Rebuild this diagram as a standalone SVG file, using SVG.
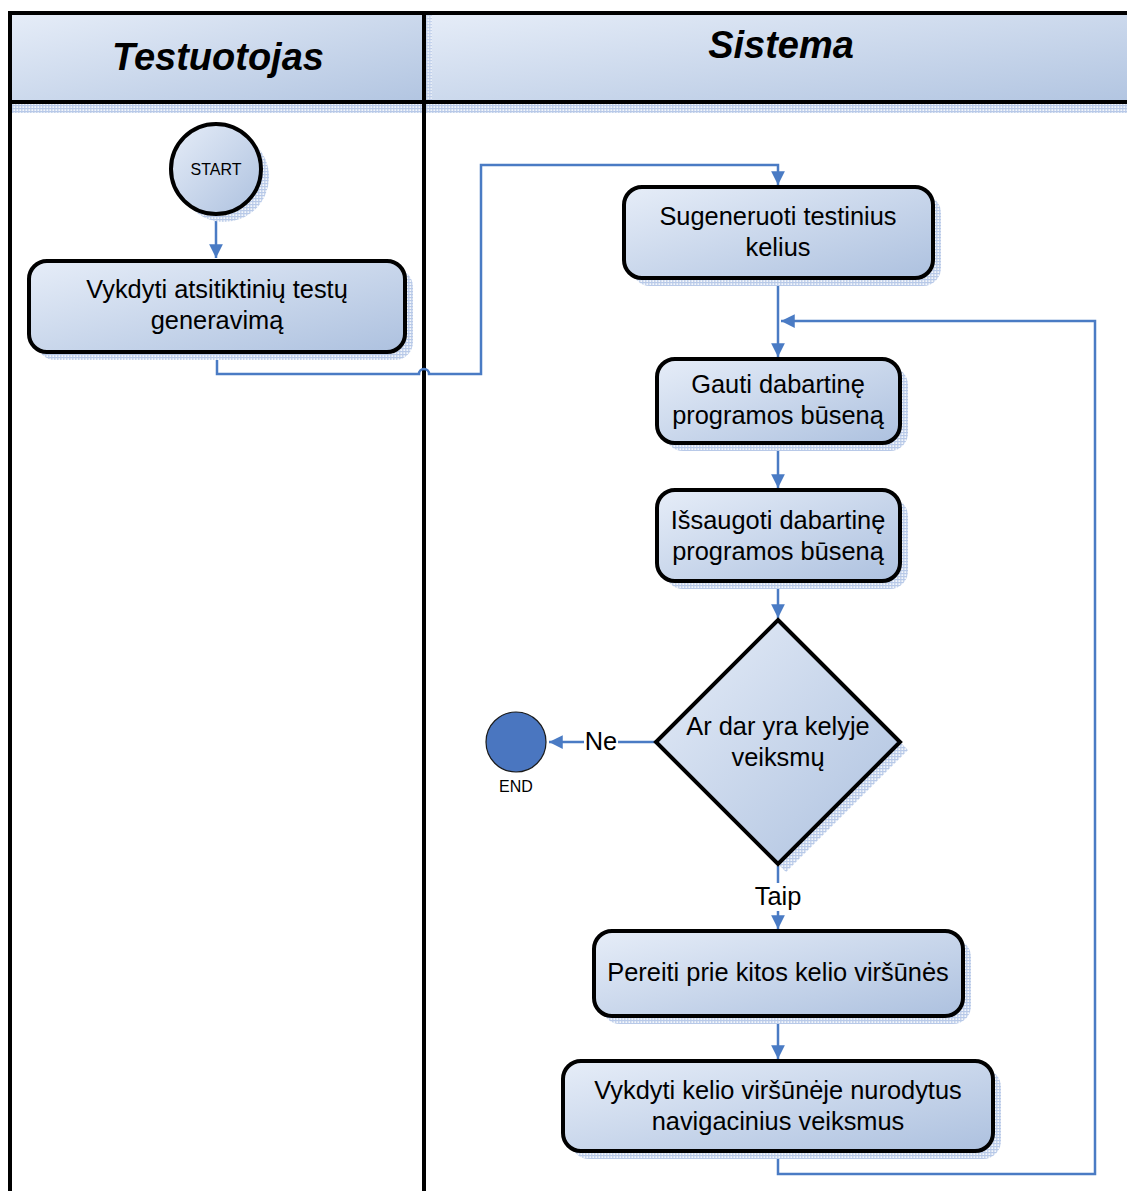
<svg xmlns="http://www.w3.org/2000/svg" width="1127" height="1191" viewBox="0 0 1127 1191">
  <defs>
    <linearGradient id="fillGrad" x1="0" y1="0" x2="1" y2="1">
      <stop offset="0" stop-color="#e6edf8"/>
      <stop offset="1" stop-color="#adc1df"/>
    </linearGradient>
    <linearGradient id="headGrad" x1="0" y1="0" x2="1" y2="1">
      <stop offset="0" stop-color="#e6edf8"/>
      <stop offset="1" stop-color="#b2c5e1"/>
    </linearGradient>
    <pattern id="shadowDots" width="3" height="3" patternUnits="userSpaceOnUse">
      <rect width="3" height="3" fill="#f3f6fb"/>
      <rect width="1.5" height="3" fill="#c4d3ec"/>
      <rect width="3" height="1.2" fill="#b8c9e8"/>
    </pattern>
    <marker id="arrow" viewBox="0 0 10 10" refX="10" refY="5" markerWidth="5.5" markerHeight="5.5" markerUnits="strokeWidth" orient="auto">
      <path d="M0,0 L10,5 L0,10 Z" fill="#4a7bc4"/>
    </marker>
    <style>
      .node { fill: url(#fillGrad); stroke: #000; stroke-width: 4; }
      .shadow { fill: url(#shadowDots); }
      .label { font-family: "Liberation Sans", Arial, sans-serif; font-size: 25.4px; fill: #000; text-anchor: middle; }
      .small { font-family: "Liberation Sans", Arial, sans-serif; font-size: 16px; fill: #000; text-anchor: middle; }
      .lane-title { font-family: "Liberation Sans", Arial, sans-serif; font-size: 38px; font-weight: bold; font-style: italic; fill: #000; text-anchor: middle; }
      .conn { fill: none; stroke: #4a7bc4; stroke-width: 2.5; }
      .lane-line { stroke: #000; stroke-width: 4; fill: none; }
    </style>
  </defs>

  <rect width="1127" height="1191" fill="#fff"/>

  <!-- swimlane headers -->
  <g id="lanes">
    <rect x="12" y="104" width="1115" height="9" class="shadow"/>
    <rect x="426" y="15" width="6" height="98" class="shadow"/>
    <rect x="10" y="13" width="414" height="89" fill="url(#headGrad)"/>
    <rect x="424" y="13" width="703" height="89" fill="url(#headGrad)"/>
    <rect x="426" y="15" width="6" height="86" class="shadow" opacity="0.7"/>
    <path class="lane-line" d="M10,1191 V13 H1127 M10,102 H1127 M424,13 V1191"/>
    <text class="lane-title" x="218" y="70">Testuotojas</text>
    <text class="lane-title" x="781" y="58">Sistema</text>
  </g>

  <!-- connectors -->
  <g id="connectors">
    <path class="conn" d="M216,215 V258" marker-end="url(#arrow)"/>
    <path class="conn" d="M217,352 V374 H419 A5,5 0 0 1 429,374 H481 V165 H778 V185" marker-end="url(#arrow)"/>
    <path class="conn" d="M778,279 V357" marker-end="url(#arrow)"/>
    <path class="conn" d="M778,1152 V1174 H1095 V321 H781" marker-end="url(#arrow)"/>
    <path class="conn" d="M778,443 V488" marker-end="url(#arrow)"/>
    <path class="conn" d="M778,582 V618" marker-end="url(#arrow)"/>
    <path class="conn" d="M655,742 H549" marker-end="url(#arrow)"/>
    <path class="conn" d="M778,866 V929" marker-end="url(#arrow)"/>
    <path class="conn" d="M778,1017 V1059" marker-end="url(#arrow)"/>
    <rect x="584" y="728" width="34" height="28" fill="#fff"/>
    <text class="label" x="601" y="750">Ne</text>
    <rect x="750" y="883" width="56" height="28" fill="#fff"/>
    <text class="label" x="778" y="905">Taip</text>
  </g>

  <g id="start">
    <circle cx="224" cy="177" r="45" class="shadow"/>
    <circle cx="216" cy="169" r="45" class="node"/>
    <text class="small" x="216" y="175">START</text>
  </g>

  <g id="generate-random-tests">
    <rect x="37" y="269" width="376" height="91" rx="18" class="shadow"/>
    <rect x="29" y="261" width="376" height="91" rx="18" class="node"/>
    <text class="label" x="217" y="298">Vykdyti atsitiktinių testų</text>
    <text class="label" x="217" y="329">generavimą</text>
  </g>

  <g id="generate-test-paths">
    <rect x="632" y="195" width="309" height="91" rx="18" class="shadow"/>
    <rect x="624" y="187" width="309" height="91" rx="18" class="node"/>
    <text class="label" x="778" y="225">Sugeneruoti testinius</text>
    <text class="label" x="778" y="256">kelius</text>
  </g>

  <g id="get-state">
    <rect x="665" y="367" width="243" height="84" rx="18" class="shadow"/>
    <rect x="657" y="359" width="243" height="84" rx="18" class="node"/>
    <text class="label" x="778" y="393">Gauti dabartinę</text>
    <text class="label" x="778" y="424">programos būseną</text>
  </g>

  <g id="save-state">
    <rect x="665" y="498" width="243" height="91" rx="18" class="shadow"/>
    <rect x="657" y="490" width="243" height="91" rx="18" class="node"/>
    <text class="label" x="778" y="529">Išsaugoti dabartinę</text>
    <text class="label" x="778" y="560">programos būseną</text>
  </g>

  <g id="has-actions">
    <polygon points="786,628 908,750 786,872 664,750" class="shadow"/>
    <polygon points="778,620 900,742 778,864 656,742" class="node"/>
    <text class="label" x="778" y="735">Ar dar yra kelyje</text>
    <text class="label" x="778" y="766">veiksmų</text>
  </g>

  <g id="end">
    <circle cx="516" cy="742" r="30" fill="#4a76c0" stroke="#1a1a1a" stroke-width="1.2"/>
    <text class="small" x="516" y="792">END</text>
  </g>

  <g id="next-vertex">
    <rect x="602" y="939" width="369" height="85" rx="18" class="shadow"/>
    <rect x="594" y="931" width="369" height="85" rx="18" class="node"/>
    <text class="label" x="778" y="981">Pereiti prie kitos kelio viršūnės</text>
  </g>

  <g id="run-navigation">
    <rect x="571" y="1069" width="430" height="90" rx="18" class="shadow"/>
    <rect x="563" y="1061" width="430" height="90" rx="18" class="node"/>
    <text class="label" x="778" y="1099">Vykdyti kelio viršūnėje nurodytus</text>
    <text class="label" x="778" y="1130">navigacinius veiksmus</text>
  </g>
</svg>
